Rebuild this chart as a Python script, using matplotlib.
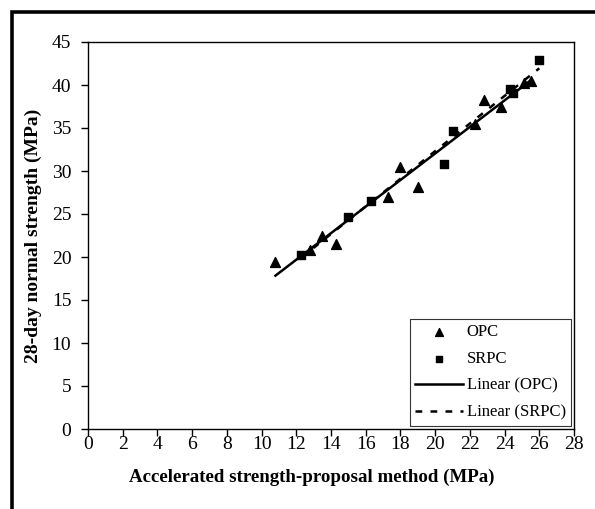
import numpy as np
import matplotlib
matplotlib.use('Agg')
from matplotlib import pyplot as plt
from matplotlib.patches import Rectangle

plt.rcParams['font.family'] = ['Liberation Serif', 'DejaVu Serif']

# OPC data (triangles)
opc_x = [10.8, 12.8, 13.5, 14.3, 17.3, 18.0, 19.0, 22.3, 22.8, 23.8, 25.1, 25.5]
opc_y = [19.4, 20.8, 22.4, 21.5, 27.0, 30.5, 28.1, 35.5, 38.3, 37.4, 40.2, 40.5]
# SRPC data (squares)
srpc_x = [12.3, 15.0, 16.3, 20.5, 21.0, 24.3, 24.5, 26.0]
srpc_y = [20.2, 24.7, 26.5, 30.8, 34.6, 39.5, 39.1, 42.9]

xticks = list(range(0, 29, 2))
yticks = list(range(0, 46, 5))

fig = plt.figure(figsize=(5.95, 5.09), dpi=100)
ax = fig.add_axes([88 / 595, 1 - 429 / 509, (574 - 88) / 595, (429 - 42) / 509])

# outer frame of the chart area (cropped at right/bottom)
fig.patches.append(Rectangle((12 / 595, -0.1), 1.2, 1 - 11.7 / 509 + 0.1,
                             transform=fig.transFigure, fill=False,
                             edgecolor='black', linewidth=2.6, zorder=0))

ax.scatter(opc_x, opc_y, marker='^', s=50, color='black', label='OPC', zorder=3)
ax.scatter(srpc_x, srpc_y, marker='s', s=30, color='black', label='SRPC', zorder=3)

# linear trendlines
p1 = np.polyfit(opc_x, opc_y, 1)
xs1 = np.array([min(opc_x), max(opc_x)])
ax.plot(xs1, np.polyval(p1, xs1), color='black', lw=1.8, label='Linear (OPC)')
p2 = np.polyfit(srpc_x, srpc_y, 1)
xs2 = np.array([min(srpc_x), max(srpc_x)])
ax.plot(xs2, np.polyval(p2, xs2), color='black', lw=1.8, ls=(0, (2.7, 3.3)),
        label='Linear (SRPC)')

ax.set_xlim(0, 28)
ax.set_ylim(0, 45)
ax.set_xticks(xticks)
ax.set_yticks(yticks)
ax.tick_params(direction='out', length=5, width=1, labelsize=14)
ax.tick_params(axis='x', pad=0)
ax.tick_params(axis='y', pad=7)
for s in ax.spines.values():
    s.set_linewidth(1)
ax.set_xlabel('Accelerated strength-proposal method (MPa)', fontsize=13.6,
              fontweight='bold')
ax.xaxis.set_label_coords((312 - 88) / 486, -(469 - 429) / 387)
ax.set_ylabel('28-day normal strength (MPa)', fontsize=14, fontweight='bold')
ax.yaxis.set_label_coords(-(88 - 42) / 486, 0.5)

leg = ax.legend(loc='lower right', fontsize=12, frameon=True, fancybox=False,
                edgecolor='black', borderaxespad=0.2, handlelength=2.9,
                handletextpad=0.2, labelspacing=0.65, borderpad=0.3,
                markerscale=0.8)
leg.get_frame().set_linewidth(0.8)

fig.savefig('out.png', dpi=100)
